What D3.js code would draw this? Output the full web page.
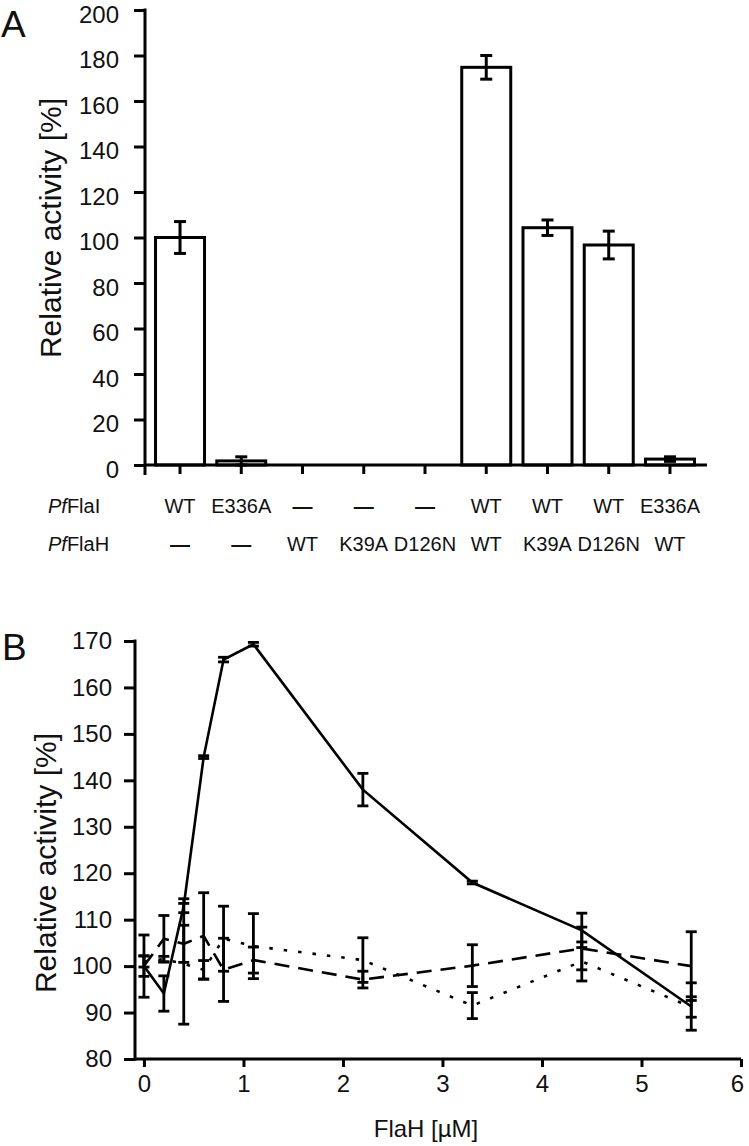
<!DOCTYPE html>
<html><head><meta charset="utf-8">
<script src="https://cdn.jsdelivr.net/npm/d3@7"></script>
<style>
body{margin:0;background:#fff}
svg{display:block;font-family:"Liberation Sans",Arial,sans-serif}
</style>
</head><body><svg id="chart" width="749" height="1146"></svg>
<script>
// ---------- Panel A data ----------
const constructs = ["1","2","3","4","5","6","7","8","9"];
const flaI = ["WT","E336A","\u2014","\u2014","\u2014","WT","WT","WT","E336A"];
const flaH = ["\u2014","\u2014","WT","K39A","D126N","WT","K39A","D126N","WT"];
const activity = [100, 1.8, 0, 0, 0, 174.8, 104.3, 96.7, 2.6];
const activityErr = [7, 1.8, 0, 0, 0, 5.2, 3.4, 6.1, 1];
const yTicksA = [0,20,40,60,80,100,120,140,160,180,200];

// ---------- Panel B data ----------
const flaHConc = [0, 0.2, 0.4, 0.6, 0.8, 1.1, 2.2, 3.3, 4.4, 5.5];
const solidVals = [100, 94.1, 113, 145, 166, 169.3, 138, 118, 107.7, 91.3];
const solidErr  = [6.7, 3.8, 1.5, 0.3, 0.5, 0.4, 3.5, 0.3, 3.7, 5.1];
const dashedVals = [100, 105.9, 104.8, 106.5, 99.2, 101.3, 97.1, 100.1, 103.8, 100];
const dashedErr  = [2.2, 5, 4, 9.3, 6.8, 2.8, 1.8, 4.5, 4.6, 7.4];
const dottedVals = [101, 101.5, 100.5, 99.2, 105.9, 104.3, 101.3, 91.5, 101, 91.2];
const dottedErr  = [1.2, 0.6, 13, 2, 7, 7, 4.8, 2.8, 4.2, 2.2];
const yTicksB = [80,90,100,110,120,130,140,150,160,170];
const xTicksB = [0,1,2,3,4,5,6];

const svg = d3.select("#chart");
const SW = 3;
const FONT = "Liberation Sans, Arial, sans-serif";

// ================= Panel A =================
const yA = d3.scaleLinear().domain([0,200]).range([465,10]);
const xA = d3.scaleBand().domain(constructs).range([149.4,700.6]).paddingInner(0.2).paddingOuter(0.1);
const gA = svg.append("g");

const axA = gA.append("g").attr("transform","translate(145,0)")
  .call(d3.axisLeft(yA).tickValues(yTicksA).tickSize(11).tickPadding(15).tickSizeOuter(0));
axA.select(".domain").remove();
axA.selectAll(".tick line").attr("stroke","#000").attr("stroke-width",SW);
axA.selectAll(".tick text").attr("font-size",24).attr("fill","#111").attr("font-family",FONT).attr("dy","0.5em");
gA.append("line").attr("x1",145).attr("x2",145).attr("y1",yA(200)-1.5).attr("y2",yA(0)+10)
  .attr("stroke","#000").attr("stroke-width",SW);

gA.selectAll("rect.bar").data(constructs.filter((c,i)=>activity[i]>0)).join("rect")
  .attr("x",c=>xA(c)).attr("width",xA.bandwidth())
  .attr("y",c=>yA(activity[constructs.indexOf(c)]))
  .attr("height",c=>yA(0)-yA(activity[constructs.indexOf(c)]))
  .attr("fill","#fff").attr("stroke","#000").attr("stroke-width",SW);

const axAx = gA.append("g").attr("transform",`translate(0,${yA(0)})`)
  .call(d3.axisBottom(xA).tickSize(9).tickFormat("").tickSizeOuter(0));
axAx.select(".domain").remove();
axAx.selectAll(".tick line").attr("stroke","#000").attr("stroke-width",SW);
gA.append("line").attr("x1",145).attr("x2",707).attr("y1",yA(0)).attr("y2",yA(0))
  .attr("stroke","#000").attr("stroke-width",SW);

constructs.forEach((c,i)=>{
  if(activityErr[i]<=0) return;
  const cx = xA(c)+xA.bandwidth()/2;
  const hi = yA(activity[i]+activityErr[i]), lo = yA(Math.max(0,activity[i]-activityErr[i]));
  gA.append("line").attr("x1",cx).attr("x2",cx).attr("y1",hi).attr("y2",lo).attr("stroke","#000").attr("stroke-width",SW);
  [hi,lo].forEach(yy=>gA.append("line").attr("x1",cx-6).attr("x2",cx+6).attr("y1",yy).attr("y2",yy).attr("stroke","#000").attr("stroke-width",SW));
});

const rowFont = 20;
gA.selectAll("text.r1").data(constructs).join("text")
  .attr("x",c=>xA(c)+xA.bandwidth()/2).attr("y",513).attr("text-anchor","middle")
  .attr("font-size",rowFont).attr("fill","#111")
  .attr("font-weight",(c,i)=>flaI[i]==="\u2014"?"bold":"normal")
  .text((c,i)=>flaI[i]);
gA.selectAll("text.r2").data(constructs).join("text")
  .attr("x",c=>xA(c)+xA.bandwidth()/2).attr("y",551).attr("text-anchor","middle")
  .attr("font-size",rowFont).attr("fill","#111")
  .attr("font-weight",(c,i)=>flaH[i]==="\u2014"?"bold":"normal")
  .text((c,i)=>flaH[i]);
const l1 = gA.append("text").attr("x",48).attr("y",513).attr("font-size",rowFont).attr("fill","#111");
l1.append("tspan").attr("font-style","italic").text("Pf"); l1.append("tspan").text("FlaI");
const l2 = gA.append("text").attr("x",48).attr("y",551).attr("font-size",rowFont).attr("fill","#111");
l2.append("tspan").attr("font-style","italic").text("Pf"); l2.append("tspan").text("FlaH");

gA.append("text").attr("transform","translate(61,228) rotate(-90)").attr("text-anchor","middle")
  .attr("font-size",30).attr("fill","#111").text("Relative activity [%]");
gA.append("text").attr("x",1).attr("y",37).attr("font-size",37).attr("fill","#111").text("A");

// ================= Panel B =================
const xB = d3.scaleLinear().domain([-0.09,6]).range([135,741]);
const yB = d3.scaleLinear().domain([80,170]).range([1059,641]);
const gB = svg.append("g");

const axB = gB.append("g").attr("transform","translate(135,0)")
  .call(d3.axisLeft(yB).tickValues(yTicksB).tickSize(11).tickPadding(12).tickSizeOuter(0));
axB.select(".domain").remove();
axB.selectAll(".tick line").attr("stroke","#000").attr("stroke-width",SW);
axB.selectAll(".tick text").attr("font-size",24).attr("fill","#111").attr("font-family",FONT);
gB.append("line").attr("x1",135).attr("x2",135).attr("y1",yB(170)-1.5).attr("y2",yB(80)+1.5)
  .attr("stroke","#000").attr("stroke-width",SW);

const axBx = gB.append("g").attr("transform",`translate(0,${yB(80)})`)
  .call(d3.axisBottom(xB).tickValues(xTicksB).tickFormat(d3.format("d")).tickSize(8).tickPadding(8).tickSizeOuter(0));
axBx.select(".domain").remove();
axBx.selectAll(".tick line").attr("stroke","#000").attr("stroke-width",SW);
axBx.selectAll(".tick text").attr("font-size",24).attr("fill","#111").attr("font-family",FONT)
  .attr("dx",d=>d===6?"-4":"0");
gB.append("line").attr("x1",135).attr("x2",741).attr("y1",yB(80)).attr("y2",yB(80))
  .attr("stroke","#000").attr("stroke-width",SW);

const series = [
  {vals:solidVals, err:solidErr, dash:null},
  {vals:dashedVals, err:dashedErr, dash:"15,9"},
  {vals:dottedVals, err:dottedErr, dash:"3.5,11"}
];
const line = d3.line().x(d=>xB(d[0])).y(d=>yB(d[1]));
series.forEach(s=>{
  const pts = flaHConc.map((x,i)=>[x,s.vals[i]]);
  gB.append("path").attr("d",line(pts)).attr("fill","none").attr("stroke","#000")
    .attr("stroke-width",2.6).attr("stroke-dasharray",s.dash);
});
series.forEach(s=>{
  flaHConc.forEach((x,i)=>{
    const cx = xB(x), hi = yB(s.vals[i]+s.err[i]), lo = yB(s.vals[i]-s.err[i]);
    gB.append("line").attr("x1",cx).attr("x2",cx).attr("y1",hi).attr("y2",lo).attr("stroke","#000").attr("stroke-width",2.8);
    [hi,lo].forEach(yy=>gB.append("line").attr("x1",cx-5.5).attr("x2",cx+5.5).attr("y1",yy).attr("y2",yy).attr("stroke","#000").attr("stroke-width",2.8));
  });
});

gB.append("text").attr("transform","translate(56,863) rotate(-90)").attr("text-anchor","middle")
  .attr("font-size",30).attr("fill","#111").text("Relative activity [%]");
gB.append("text").attr("x",426).attr("y",1137).attr("text-anchor","middle")
  .attr("font-size",24).attr("fill","#111").text("FlaH [\u00b5M]");
gB.append("text").attr("x",2).attr("y",660).attr("font-size",37).attr("fill","#111").text("B");
</script>
</body></html>
